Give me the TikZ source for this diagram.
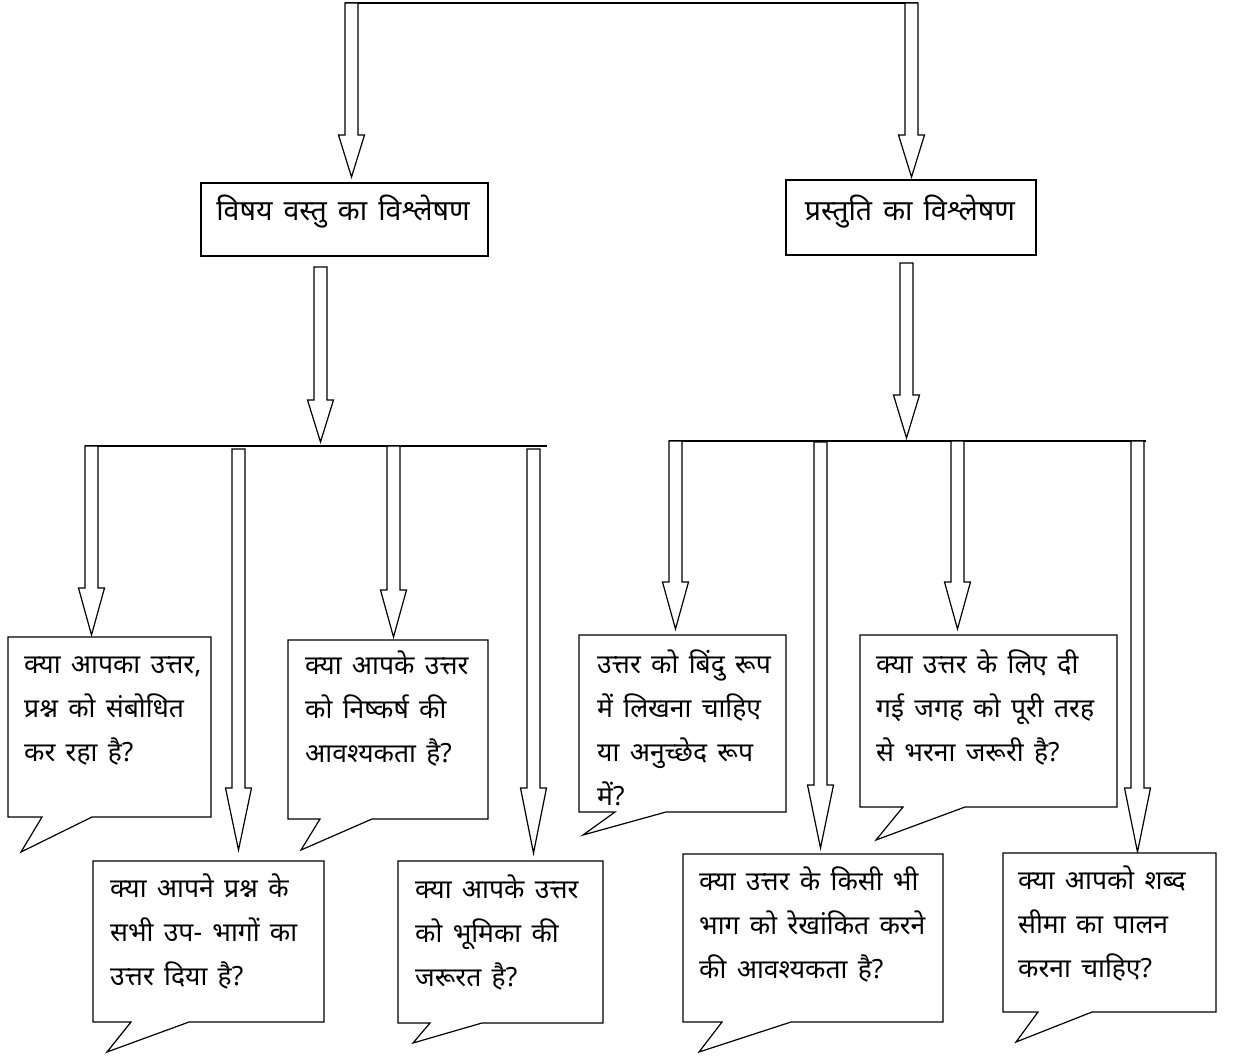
\documentclass[tikz,border=0pt]{standalone}
\usepackage{fontspec}
\newfontfamily\devfont[Script=Devanagari]{Noto Sans}
\newfontfamily\devqfont[Script=Devanagari,WordSpace=1.5]{Noto Sans}
\tikzset{
  boxstyle/.style={draw, line width=1.2pt, inner sep=0pt},
  titletext/.style={font=\devfont\fontsize{28.5}{32}\selectfont, inner sep=0pt, anchor=base},
  qtext/.style={font=\devqfont\fontsize{26.5}{44}\selectfont, align=left, inner sep=0pt, anchor=base west},
  arrowshape/.style={draw, fill=white, line width=1.2pt, line join=miter},
  bubblestyle/.style={draw, fill=white, line width=1.2pt, line join=miter},
  linkline/.style={draw, line width=1.2pt}
}
\newcommand\hollowarr[4]{%
  \path[arrowshape] (#1-6.5,#2) -- (#1-6.5,#3) -- (#1-13,#3) -- (#1,#4) -- (#1+13,#3) -- (#1+6.5,#3) -- (#1+6.5,#2) -- cycle;}
\newcommand\bubbleshape[8]{%
  \path[bubblestyle] (#1,#2) -- (#3,#2) -- (#3,#4) -- (#8,#4) -- (#6,#7) -- (#5,#4) -- (#1,#4) -- cycle;}
\begin{document}
\begin{tikzpicture}[x=1pt,y=-1pt]
\useasboundingbox (0,0) rectangle (1236,1056);

% top level
\coordinate (topL) at (345,3);
\coordinate (topR) at (918,3);
\path[linkline] (topL) -- (topR);
\hollowarr{351.5}{3}{135}{177}
\hollowarr{911.5}{3}{135}{177}

% title boxes
\node[boxstyle, minimum width=287pt, minimum height=73pt] (b1) at (344.5,219.5) {};
\node[titletext] (b1t) at (343,221) {विषय वस्तु का विश्लेषण};
\node[boxstyle, minimum width=250pt, minimum height=75pt] (b2) at (911,217.5) {};
\node[titletext] (b2t) at (910,221) {प्रस्तुति का विश्लेषण};

% middle arrows
\hollowarr{320.5}{267}{400}{442}
\hollowarr{906.5}{263}{395}{438}

% left group
\coordinate (lL) at (85,446);
\coordinate (lR) at (547,446);
\path[linkline] (lL) -- (lR);
\hollowarr{91.5}{446}{588}{635}
\hollowarr{238.5}{449}{788}{850}
\hollowarr{393.5}{446}{590}{637}
\hollowarr{533.5}{449}{788}{853}

% right group
\coordinate (rL) at (669,441);
\coordinate (rR) at (1146,441);
\path[linkline] (rL) -- (rR);
\hollowarr{675.5}{441}{582}{629}
\hollowarr{820.5}{442}{785}{848}
\hollowarr{957.5}{441}{582}{629}
\hollowarr{1137.5}{441}{788}{852}

% callouts
\bubbleshape{8}{637}{211}{817}{42}{21}{852}{92}
\bubbleshape{93}{861}{324}{1022}{131}{107}{1052}{189}
\bubbleshape{288}{640}{488}{819}{320}{301}{850}{372}
\bubbleshape{398}{861}{603}{1023}{430}{413}{1043}{482}
\bubbleshape{579}{635}{786}{812}{615}{583}{835}{666}
\bubbleshape{860}{635}{1117}{807}{903}{876}{840}{965}
\bubbleshape{683}{854}{943}{1022}{722}{699}{1052}{791}
\bubbleshape{1003}{853}{1216}{1012}{1038}{1016}{1042}{1092}

% texts: anchor is the baseline of the last line
\node[qtext] (c1) at (24,761) {क्या आपका उत्तर,\\प्रश्न को संबोधित\\कर रहा है?};
\node[qtext] (c3) at (305,762) {क्या आपके उत्तर\\को निष्कर्ष की\\आवश्यकता है?};
\node[qtext] (c2) at (110,985) {क्या आपने प्रश्न के\\सभी उप- भागों का\\उत्तर दिया है?};
\node[qtext] (c4) at (415,986) {क्या आपके उत्तर\\को भूमिका की\\जरूरत है?};
\node[qtext] (d1) at (597,805) {उत्तर को बिंदु रूप\\में लिखना चाहिए\\या अनुच्छेद रूप\\में?};
\node[qtext] (d2) at (876,761) {क्या उत्तर के लिए दी\\गई जगह को पूरी तरह\\से भरना जरूरी है?};
\node[qtext] (d3) at (699,978) {क्या उत्तर के किसी भी\\भाग को रेखांकित करने\\की आवश्यकता है?};
\node[qtext] (d4) at (1018,977) {क्या आपको शब्द\\सीमा का पालन\\करना चाहिए?};
\end{tikzpicture}
\end{document}
